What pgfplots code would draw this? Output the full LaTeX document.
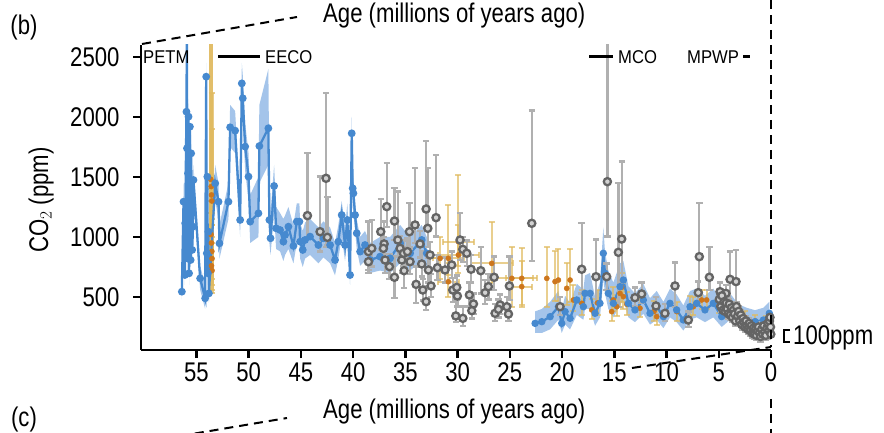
\documentclass[border=0pt]{standalone}
\usepackage{fontspec}
\setmainfont{Liberation Sans}[FakeStretch=0.82]
\newfontfamily\annfont{Liberation Sans}[FakeStretch=0.9]
\usepackage{pgfplots}
\pgfplotsset{compat=1.18}
\usepgfplotslibrary{fillbetween}
\usepackage{pgfplotstable}

\definecolor{bl}{RGB}{70,137,207}
\definecolor{band}{RGB}{115,165,222}
\definecolor{org}{RGB}{205,118,28}
\definecolor{yel}{RGB}{224,186,96}
\definecolor{gbar}{RGB}{176,176,176}
\definecolor{gring}{RGB}{100,100,100}
\definecolor{gfill}{RGB}{210,210,210}

\newcommand{\fsz}[1]{\fontsize{#1bp}{#1bp}\selectfont}

\pgfplotstableread{
x y lo hi
56.39 544 480 620
56.23 1294 1150 1450
56.10 683 600 780
56.07 1114 1000 1250
55.95 2044 1900 2200
55.91 2700 2500 2900
55.90 1739 1600 1900
55.85 822 720 920
55.80 1530 1400 1650
55.75 2003 1850 2150
55.70 697 600 800
55.62 1919 1800 2050
55.60 1003 900 1100
55.55 808 700 900
55.50 1697 1550 1850
55.44 1253 1150 1350
55.40 892 800 1000
55.32 1086 980 1200
55.28 1475 1350 1600
54.64 655 560 760
54.16 489 400 600
54.06 2336 2200 2450
54.00 864 750 1000
53.95 1502 1380 1620
53.90 697 600 800
53.85 1044 950 1150
53.80 530 450 620
53.20 1447 1300 1600
52.88 1294 1150 1450
52.79 947 820 1100
51.93 1294 1150 1450
51.77 1914 1750 2100
51.29 1886 1700 2050
50.81 1142 1000 1300
50.65 2280 2050 2450
50.56 2156 1950 2350
50.33 1753 1550 1950
50.01 1503 1300 1700
49.85 1128 950 1350
49.06 1197 1000 1500
48.97 1758 1450 2100
48.11 1906 1600 2400
48.01 1142 950 1450
47.90 989 850 1200
47.56 1425 1200 1600
47.37 1072 900 1250
46.99 1058 880 1200
46.67 961 800 1150
46.51 1017 850 1180
46.19 1086 900 1250
45.71 925 780 1100
45.39 1128 950 1280
45.14 1128 950 1280
45.07 961 820 1120
44.82 892 750 1050
44.60 975 820 1120
44.12 1003 850 1150
43.32 933 780 1080
42.84 989 830 1130
42.20 933 780 1080
41.73 808 680 950
41.41 961 820 1100
41.09 1183 1000 1300
40.77 933 800 1080
40.55 1142 1000 1280
40.29 683 600 800
40.13 1864 1700 2000
40.04 1406 1250 1550
39.97 1364 1200 1500
39.81 1183 1050 1300
39.65 1031 900 1150
39.33 878 760 1000
38.86 933 800 1050
38.37 808 700 950
37.42 836 720 1000
36.46 822 700 1000
35.50 947 780 1100
34.54 864 720 1000
33.43 975 800 1100
32.95 864 720 1000
}\blueA

\pgfplotstableread{
x y lo hi
22.58 280 200 380
21.94 294 200 400
21.14 336 230 460
20.35 419 310 550
20.03 280 200 390
19.71 378 270 510
19.23 322 230 450
18.59 475 350 610
17.96 419 310 560
17.80 530 400 680
17.32 530 400 700
16.84 364 260 500
16.37 447 330 620
16.05 864 650 1080
15.89 697 530 880
15.57 530 400 720
15.09 447 330 620
14.45 586 430 780
14.13 641 480 800
13.65 447 330 590
13.02 392 290 530
12.22 475 360 610
11.58 364 270 490
10.94 419 310 550
10.30 336 240 460
9.67 447 330 570
9.03 392 290 520
8.39 308 220 430
7.75 419 310 550
7.12 447 330 570
6.32 392 290 510
5.52 447 330 570
4.72 336 250 460
3.92 419 310 530
3.13 336 250 440
2.33 308 220 410
1.53 294 210 390
0.73 308 220 410
0.16 364 270 460
}\blueB

\pgfplotstableread{
x y lo hi
53.62 1480 1300 2700
53.58 1420 1200 2650
53.55 1350 1150 2200
53.52 1300 1100 1900
53.60 1020 800 1500
53.56 950 750 1400
53.52 880 650 1200
53.50 820 600 1100
53.55 760 560 1000
53.50 720 530 950
}\orgP

\pgfplotstableread{
x y lo hi
21.46 655 420 919
20.67 628 470 880
20.35 641 470 900
19.23 641 460 900
19.55 572 430 780
18.91 475 380 600
18.11 447 350 560
17.16 392 320 480
16.60 450 350 560
15.25 378 300 470
15.09 475 380 580
14.77 419 340 520
14.45 530 420 650
14.30 580 460 700
14.13 503 400 620
13.80 440 350 540
12.54 406 330 500
11.20 380 300 470
10.94 336 270 420
9.03 378 300 460
7.75 419 340 510
7.43 419 350 500
6.64 475 400 560
6.16 475 400 560
5.00 430 370 500
3.50 380 330 440
2.50 330 290 380
1.50 300 260 350
0.50 290 250 340
}\orgA

\pgfplotstableread{
x y lo hi xe
31.67 822 650 1000 1.0
30.88 822 680 1267 1.5
30.88 627 500 780 1.0
29.92 961 760 1517 1.5
29.92 850 700 1100 2.0
26.73 780 620 1128 2.0
24.81 655 420 919 2.0
23.86 655 420 905 1.5
23.86 586 430 800 1.0
}\orgB

\pgfplotstableread{
x y lo hi
44.37 1178 983 1697
43.16 1044 878 1503
42.59 1489 919 2197
42.46 997 933 1336
38.53 878 725 1128
38.53 794 700 900
38.21 905 753 1142
37.35 1044 892 1314
37.03 942 808 1128
37.10 905 800 1000
36.78 1253 1086 1619
36.94 808 700 920
36.52 753 650 860
36.04 1133 975 1406
36.04 664 489 836
35.72 975 836 1378
35.50 905 800 1010
35.34 808 700 920
35.18 864 760 970
35.12 719 572 919
34.80 878 770 990
34.61 1044 919 1281
34.55 794 690 900
34.07 1100 947 1572
33.97 605 447 753
33.59 942 830 1050
33.43 775 670 880
33.33 558 470 650
33.01 1233 1086 1800
32.85 1072 919 1572
33.01 461 392 586
32.79 725 620 830
32.63 850 740 960
32.54 592 500 690
32.06 1161 1003 1683
31.93 744 640 850
31.20 725 620 830
30.56 767 660 880
30.46 558 460 660
30.08 580 480 680
30.02 508 420 600
30.17 342 294 475
29.50 322 260 420
29.76 975 808 1197
29.50 897 790 1000
29.12 864 760 970
28.71 731 620 850
28.87 517 420 620
28.48 442 360 530
28.64 386 320 470
27.78 719 530 919
27.36 536 440 640
27.05 586 480 690
26.50 664 560 836
26.41 364 300 440
25.93 433 360 520
26.09 397 330 480
25.29 419 350 500
25.13 358 300 430
25.04 592 475 836
22.90 1114 800 2053
20.19 419 350 500
18.12 731 530 1119
16.75 669 447 980
15.73 669 560 780
15.66 1461 1003 2700
14.61 872 419 1447
14.29 983 614 1628
13.02 494 420 580
12.38 525 450 620
11.01 425 360 500
10.15 364 300 440
9.19 592 419 786
7.91 308 250 380
6.86 836 530 1281
6.96 536 450 630
5.90 664 558 919
4.88 544 480 620
3.92 647 364 878
3.35 628 419 892
4.56 447 390 510
4.31 530 460 600
4.95 480 440 520
4.80 420 380 460
4.70 510 470 550
4.60 390 350 430
4.50 460 420 500
4.40 380 340 420
4.30 450 410 490
4.20 400 360 440
4.10 360 320 400
4.00 440 400 480
3.90 350 310 390
3.80 410 370 450
3.70 330 290 370
3.60 390 350 430
3.50 360 320 400
3.40 300 260 340
3.30 420 380 460
3.20 340 300 380
3.10 380 340 420
3.00 300 260 340
2.90 350 310 390
2.80 270 230 310
2.70 320 280 360
2.60 290 250 330
2.50 250 210 290
2.40 300 260 340
2.30 260 220 300
2.20 230 190 270
2.10 280 240 320
2.00 220 180 260
1.90 260 220 300
1.80 200 160 240
1.70 240 200 280
1.60 190 150 230
1.50 230 190 270
1.40 180 140 220
1.30 220 180 260
1.20 250 210 290
1.10 200 160 240
1.00 170 130 210
0.90 230 190 270
0.80 190 150 230
0.70 260 220 300
0.60 210 170 250
0.50 180 140 220
0.40 240 200 280
0.30 280 240 320
0.20 220 180 260
0.15 300 260 340
0.10 330 290 370
0.05 250 210 290
0.02 190 150 230
}\grayd

\begin{document}
\begin{tikzpicture}
\begin{axis}[
  at={(141bp,83bp)}, anchor=south west,
  scale only axis, width=630bp, height=305bp,
  xmin=-60.3, xmax=0, ymin=58, ymax=2600,
  axis x line*=bottom, axis y line*=left,
  axis line style={line width=2.5bp, -},
  xtick={-55,-50,-45,-40,-35,-30,-25,-20,-15,-10,-5,0},
  xticklabels={55,50,45,40,35,30,25,20,15,10,5,0},
  ytick={500,1000,1500,2000,2500},
  tick align=outside,
  major tick length=8bp,
  tick style={line width=2.5bp, black},
  /pgf/number format/assume math mode=true,
  /pgf/number format/1000 sep={},
  ticklabel style={font=\fsz{27}},
  xticklabel style={yshift=-1bp},
  yticklabel style={xshift=-10bp},
]
% blue bands
\addplot[name path=Ahi, draw=none, forget plot] table[x expr=-\thisrow{x}, y=hi]{\blueA};
\addplot[name path=Alo, draw=none, forget plot] table[x expr=-\thisrow{x}, y=lo]{\blueA};
\addplot[band, fill opacity=0.65, draw=none] fill between[of=Ahi and Alo];
\addplot[name path=Bhi, draw=none, forget plot] table[x expr=-\thisrow{x}, y=hi]{\blueB};
\addplot[name path=Blo, draw=none, forget plot] table[x expr=-\thisrow{x}, y=lo]{\blueB};
\addplot[band, fill opacity=0.65, draw=none] fill between[of=Bhi and Blo];
% orange with yellow bars
\addplot[only marks, mark=*, mark size=2.6bp, mark options={fill=org, draw=org},
  error bars/.cd, y dir=both, y explicit,
  error bar style={yel, line width=4bp, opacity=0.75},
  error mark options={rotate=90, yel, line width=2bp, mark size=3bp, opacity=0.75}]
  table[x expr=-\thisrow{x}, y=y, y error plus expr=\thisrow{hi}-\thisrow{y}, y error minus expr=\thisrow{y}-\thisrow{lo}]{\orgP};
\addplot[only marks, mark=*, mark size=2.6bp, mark options={fill=org, draw=org},
  error bars/.cd, y dir=both, y explicit,
  error bar style={yel, line width=2bp, opacity=0.7},
  error mark options={rotate=90, yel, line width=2bp, mark size=3bp, opacity=0.7}]
  table[x expr=-\thisrow{x}, y=y, y error plus expr=\thisrow{hi}-\thisrow{y}, y error minus expr=\thisrow{y}-\thisrow{lo}]{\orgA};
\addplot[only marks, mark=*, mark size=2.6bp, mark options={fill=org, draw=org},
  error bars/.cd, y dir=both, y explicit, x dir=both, x explicit,
  error bar style={yel, line width=2bp, opacity=0.7},
  error mark options={rotate=90, yel, line width=2bp, mark size=3bp, opacity=0.7}]
  table[x expr=-\thisrow{x}, y=y, y error plus expr=\thisrow{hi}-\thisrow{y}, y error minus expr=\thisrow{y}-\thisrow{lo}, x error expr=\thisrow{xe}]{\orgB};
% blue lines
\addplot[bl, line width=2.3bp, mark=*, mark size=2.7bp, mark options={fill=bl, draw=bl}] table[x expr=-\thisrow{x}, y=y]{\blueA};
\addplot[bl, line width=2.3bp, mark=*, mark size=2.5bp, mark options={fill=bl, draw=bl}] table[x expr=-\thisrow{x}, y=y]{\blueB};
% gray proxies
\addplot[only marks, mark=*, mark size=3.6bp, mark options={draw=gring, fill=gfill, line width=2.3bp},
  error bars/.cd, y dir=both, y explicit,
  error bar style={gbar, line width=2.3bp},
  error mark options={rotate=90, gbar, line width=2.3bp, mark size=3.2bp}]
  table[x expr=-\thisrow{x}, y=y, y error plus expr=\thisrow{hi}-\thisrow{y}, y error minus expr=\thisrow{y}-\thisrow{lo}]{\grayd};
\end{axis}
% texts and annotations
\node[font=\fsz{27}, anchor=base west, inner sep=0] at (323bp,410bp) {Age (millions of years ago)};
\node[font=\fsz{27}, anchor=base west, inner sep=0] at (323bp,15bp) {Age (millions of years ago)};
\node[font=\fsz{27}, anchor=base, rotate=90, inner sep=0] at (48bp,233bp) {CO$_2$ (ppm)};
\node[font=\fsz{27}, anchor=base, inner sep=0] at (24bp,398bp) {(b)};
\node[font=\fsz{27}, anchor=base, inner sep=0] at (24bp,7bp) {(c)};
\node[font=\annfont\fsz{18.5}, anchor=west, inner sep=0] at (143bp,376bp) {PETM};
\draw[line width=3bp] (218bp,376bp) -- (260bp,376bp);
\node[font=\annfont\fsz{18.5}, anchor=west, inner sep=0] at (265bp,376bp) {EECO};
\draw[line width=3bp] (589bp,376bp) -- (613bp,376bp);
\node[font=\annfont\fsz{18.5}, anchor=west, inner sep=0] at (618bp,376bp) {MCO};
\node[font=\annfont\fsz{18.5}, anchor=west, inner sep=0] at (687bp,376bp) {MPWP};
\draw[line width=3bp] (743bp,376bp) -- (750bp,376bp);
\draw[line width=2.5bp] (790bp,103bp) -- (784bp,103bp) -- (784bp,91bp) -- (790bp,91bp);
\node[font=\fsz{27}, anchor=base west, inner sep=0] at (793bp,88bp) {100ppm};
\begin{scope}[line width=2bp, dash pattern=on 9bp off 6bp]
\draw (142bp,389bp) -- (297bp,416bp);
\draw (180bp,-3bp) -- (287bp,15bp);
\draw (632bp,65bp) -- (771bp,86bp);
\draw (771bp,433bp) -- (771bp,86bp);
\draw (771bp,34bp) -- (771bp,0bp);
\end{scope}
\pgfresetboundingbox
\path[use as bounding box] (0bp,0bp) rectangle (884bp,433bp);
\end{tikzpicture}
\end{document}
